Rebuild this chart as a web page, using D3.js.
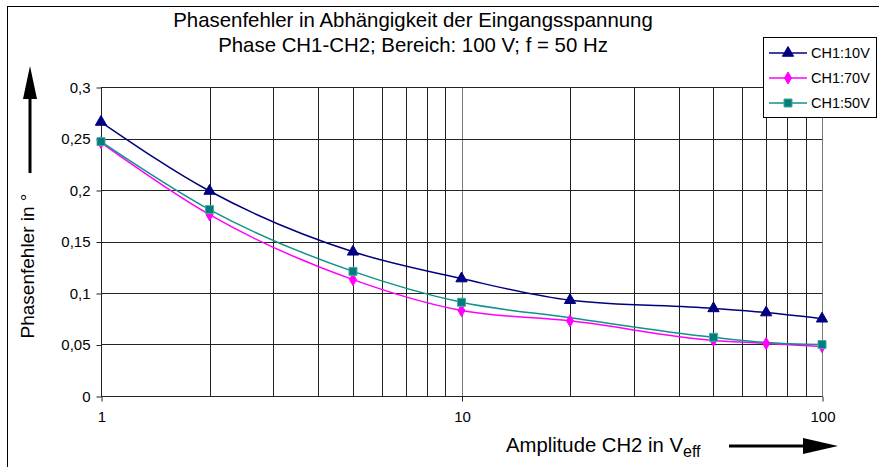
<!DOCTYPE html>
<html>
<head>
<meta charset="utf-8">
<script src="https://cdn.jsdelivr.net/npm/d3@7"></script>
<style>
  html, body { margin: 0; padding: 0; background: #fff; }
  svg { display: block; font-family: "Liberation Sans", Arial, sans-serif; }
</style>
</head>
<body>
<svg id="chart" width="879" height="467"></svg>
<script>
// Amplitude of CH2 (V eff) for each measurement
const ampCH10 = [1, 2, 5, 10, 20, 50, 70, 100];
const ampCH70 = [1, 2, 5, 10, 20, 50, 70, 100];
const ampCH50 = [1, 2, 5, 10, 20, 50, 70, 100];

// Phase error in degrees
const errCH10 = [0.266, 0.199, 0.140, 0.114, 0.093, 0.085, 0.081, 0.075];
const errCH70 = [0.246, 0.176, 0.113, 0.083, 0.073, 0.054, 0.051, 0.048];
const errCH50 = [0.247, 0.181, 0.121, 0.091, 0.076, 0.057, 0.052, 0.050];

// amplitudes at which a marker is shown
const markCH10 = [1, 2, 5, 10, 20, 50, 70, 100];
const markCH70 = [1, 2, 5, 10, 20, 50, 70, 100];
const markCH50 = [1, 2, 5, 10, 50, 100];

const seriesNames = ["CH1:10V", "CH1:70V", "CH1:50V"];
const yTicks = [0, 0.05, 0.1, 0.15, 0.2, 0.25, 0.3];
const xTickLabels = [1, 10, 100];
const titleLines = ["Phasenfehler in Abhängigkeit der Eingangsspannung",
                    "Phase CH1-CH2; Bereich: 100 V; f = 50 Hz"];

const svg = d3.select("#chart");
const plot = { left: 101, right: 822, top: 87, bottom: 396 };

const x = d3.scaleLog().domain([1, 100]).range([plot.left, plot.right]);
const y = d3.scaleLinear().domain([0, 0.3]).range([plot.bottom, plot.top]);
const de = d3.formatLocale({ decimal: ",", thousands: ".", grouping: [3], currency: ["", "€"] });
const fmt = v => de.format("")(+v.toFixed(2));
const FONT = "Liberation Sans, Arial, sans-serif";

// outer frame
svg.append("rect").attr("x", 7.5).attr("y", 6.5).attr("width", 900).attr("height", 500)
  .attr("fill", "none").attr("stroke", "#000").attr("stroke-width", 1);

// title
svg.append("g").selectAll("text").data(titleLines).join("text")
  .attr("x", 413).attr("y", (d, i) => 27 + i * 25)
  .attr("text-anchor", "middle").attr("font-size", 20.4).attr("fill", "#000")
  .text(d => d);

// grid
const minorX = [];
for (let dec = 1; dec < 100; dec *= 10) for (let k = 1; k <= 9; k++) minorX.push(dec * k);
minorX.push(100);
const grid = svg.append("g").attr("shape-rendering", "crispEdges");
grid.selectAll(".vx").data(minorX).join("line")
  .attr("x1", d => Math.round(x(d)) + 0.5).attr("x2", d => Math.round(x(d)) + 0.5)
  .attr("y1", plot.top).attr("y2", plot.bottom)
  .attr("stroke", d => (d === 10 || d === 100) ? "#777" : "#222").attr("stroke-width", 1);
grid.selectAll(".hy").data(yTicks).join("line")
  .attr("x1", plot.left).attr("x2", plot.right)
  .attr("y1", d => Math.round(y(d)) + 0.5).attr("y2", d => Math.round(y(d)) + 0.5)
  .attr("stroke", "#222").attr("stroke-width", 1);

// y axis
const yAxis = d3.axisLeft(y).tickValues(yTicks).tickFormat(fmt).tickSize(5).tickPadding(6);
const gy = svg.append("g").attr("transform", `translate(${plot.left + 0.5},0.5)`).call(yAxis);
gy.selectAll("text").attr("font-size", 15).attr("font-family", FONT).attr("fill", "#000");
gy.selectAll("line").attr("stroke", "#222");
gy.select(".domain").attr("stroke", "#222").attr("d", `M0,${plot.top}V${plot.bottom}`);

// x axis
const xAxis = d3.axisBottom(x).tickValues(xTickLabels).tickFormat(d3.format("d")).tickSize(5).tickPadding(10);
const gx = svg.append("g").attr("transform", `translate(0.5,${plot.bottom + 0.5})`).call(xAxis);
gx.selectAll("text").attr("font-size", 15).attr("font-family", FONT).attr("fill", "#000");
gx.selectAll("line").attr("stroke", "#222");
gx.select(".domain").attr("stroke", "#222").attr("d", `M${plot.left},0H${plot.right}`);

// axis titles
svg.append("text")
  .attr("transform", "translate(34,266) rotate(-90)")
  .attr("text-anchor", "middle").attr("font-size", 19).attr("fill", "#000")
  .text("Phasenfehler in °");
const xt = svg.append("text").attr("x", 506).attr("y", 452).attr("font-size", 20.3).attr("fill", "#000");
xt.append("tspan").text("Amplitude CH2 in V");
xt.append("tspan").attr("dy", 5).attr("font-size", 16).text("eff");

// arrows next to axis titles
svg.append("line").attr("x1", 30).attr("x2", 30).attr("y1", 173).attr("y2", 95)
  .attr("stroke", "#000").attr("stroke-width", 3);
svg.append("path").attr("d", "M30,66 L37,99 L23,99 Z").attr("fill", "#000");
svg.append("line").attr("x1", 729).attr("x2", 806).attr("y1", 446).attr("y2", 446)
  .attr("stroke", "#000").attr("stroke-width", 3);
svg.append("path").attr("d", "M838,446 L803,438 L803,454 Z").attr("fill", "#000");

// series
const series = [
  { name: seriesNames[0], xs: ampCH10, ys: errCH10, marks: markCH10, color: "#000080", marker: "triangle", fill: "#000080", stroke: "#000080" },
  { name: seriesNames[1], xs: ampCH70, ys: errCH70, marks: markCH70, color: "#FF00FF", marker: "diamond", fill: "#FF00FF", stroke: "#FF00FF" },
  { name: seriesNames[2], xs: ampCH50, ys: errCH50, marks: markCH50, color: "#11918c", marker: "square", fill: "#007f7a", stroke: "#4aa8a0" }
];
const symbolOf = {
  triangle: d3.symbol().type(d3.symbolTriangle).size(55),
  diamond: d3.symbol().type(d3.symbolDiamond).size(42),
  square: d3.symbol().type(d3.symbolSquare).size(64)
};

const line = d3.line().x(d => x(d[0])).y(d => y(d[1])).curve(d3.curveMonotoneX);
const gs = svg.append("g");
series.forEach(s => {
  const pts = s.xs.map((v, i) => [v, s.ys[i]]);
  gs.append("path").attr("d", line(pts)).attr("fill", "none")
    .attr("stroke", s.color).attr("stroke-width", 1.5);
});
series.forEach(s => {
  const pts = s.xs.map((v, i) => [v, s.ys[i]]).filter(p => s.marks.includes(p[0]));
  gs.append("g").selectAll("path").data(pts).join("path")
    .attr("transform", d => `translate(${x(d[0])},${y(d[1])})`)
    .attr("d", symbolOf[s.marker]())
    .attr("fill", s.fill).attr("stroke", s.stroke).attr("stroke-width", 1);
});

// legend
const lg = svg.append("g");
lg.append("rect").attr("x", 763.5).attr("y", 37.5).attr("width", 113).attr("height", 80)
  .attr("fill", "#fff").attr("stroke", "#000").attr("stroke-width", 1);
series.forEach((s, i) => {
  const cy = 53 + i * 25;
  lg.append("line").attr("x1", 769).attr("x2", 807).attr("y1", cy).attr("y2", cy)
    .attr("stroke", s.color).attr("stroke-width", 1.5);
  lg.append("path").attr("transform", `translate(788,${cy})`).attr("d", symbolOf[s.marker]())
    .attr("fill", s.fill).attr("stroke", s.stroke).attr("stroke-width", 1);
  lg.append("text").attr("x", 811).attr("y", cy + 5).attr("font-size", 14.5).attr("fill", "#000").text(s.name);
});
</script>
</body>
</html>
